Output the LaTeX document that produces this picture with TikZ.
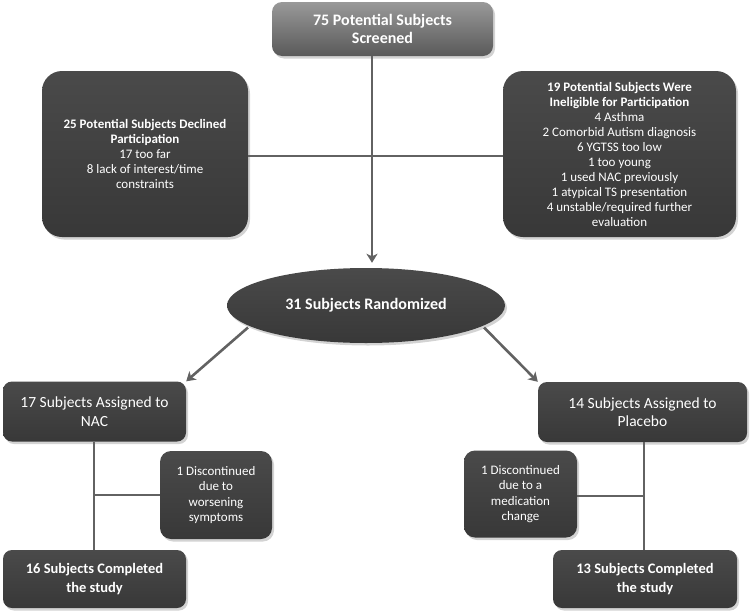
\documentclass[tikz,border=0pt]{standalone}
\usepackage{fontspec}
\setmainfont{Carlito}
\usetikzlibrary{shapes.geometric,shadows,arrows.meta,calc}
\definecolor{boxtop}{HTML}{4A4A4A}
\definecolor{boxbot}{HTML}{383838}
\definecolor{linegray}{HTML}{626262}
\tikzset{
  base/.style={draw=none, text=white, align=center, inner sep=2pt,
    top color=boxtop, bottom color=boxbot,
    drop shadow={shadow xshift=2pt, shadow yshift=-2.5pt, opacity=0.35}},
  bigbox/.style={base, rounded corners=20pt, font=\fontsize{13}{15}\selectfont},
  midbox/.style={base, rounded corners=9pt, font=\fontsize{15.5}{18.5}\selectfont},
  boldmid/.style={midbox, font=\fontsize{14.5}{18.5}\selectfont\bfseries},
  smallbox/.style={base, rounded corners=11pt, font=\fontsize{13}{15.5}\selectfont},
  topbox/.style={base, rounded corners=10pt, top color=gray!80!white, bottom color=black!65,
    font=\fontsize{16}{18.5}\selectfont\bfseries},
  conn/.style={draw=linegray, line width=2.6pt},
  arr/.style={conn, -{Stealth[length=9pt,width=11pt,inset=2.5pt]}},
}
\begin{document}
\begin{tikzpicture}[x=1pt,y=-1pt]
\useasboundingbox (0,0) rectangle (750,616);
\node[topbox, minimum width=221pt, minimum height=54pt] (top) at (382.5,29) {75 Potential Subjects\\Screened};
\node[bigbox, minimum width=206pt, minimum height=166pt] (left) at (145,154)
  {\textbf{25 Potential Subjects Declined}\\\textbf{Participation}\\17 too far\\8 lack of interest/time\\constraints};
\node[bigbox, minimum width=233pt, minimum height=166pt] (right) at (619.5,154)
  {\textbf{19 Potential Subjects Were}\\\textbf{Ineligible for Participation}\\4 Asthma\\2 Comorbid Autism diagnosis\\6 YGTSS too low\\1 too young\\1 used NAC previously\\1 atypical TS presentation\\4 unstable/required further\\evaluation};
\node[base, ellipse, minimum width=278pt, minimum height=75pt, font=\fontsize{16}{18}\selectfont\bfseries] (ell) at (366,305.5) {31 Subjects Randomized};
\node[midbox, minimum width=183pt, minimum height=60pt] (nac) at (94.5,411.5) {17 Subjects Assigned to\\NAC};
\node[smallbox, minimum width=112pt, minimum height=88pt] (discl) at (216,495) {1 Discontinued\\due to\\worsening\\symptoms};
\node[boldmid, minimum width=183pt, minimum height=58pt] (compl) at (94.5,579) {16 Subjects Completed\\the study};
\node[midbox, minimum width=209pt, minimum height=60pt] (plac) at (642.5,412) {14 Subjects Assigned to\\Placebo};
\node[smallbox, minimum width=113pt, minimum height=87pt] (discr) at (520.5,494) {1 Discontinued\\due to a\\medication\\change};
\node[boldmid, minimum width=184pt, minimum height=58pt] (compr) at (645,579) {13 Subjects Completed\\the study};
\coordinate (j) at (372,156);
\coordinate (jl) at (94,495);
\coordinate (jr) at (644,496);
% connectors
\draw[conn] (left.east |- j) -- (right.west |- j);
\draw[arr] (top.south -| j) -- ($(ell.north -| j)+(0,-5)$);
\draw[arr] ($(ell.center)+(-118,22)$) -- (nac.north east);
\draw[arr] ($(ell.center)+(118,22)$) -- (plac.north west);
\draw[conn] (nac.south -| jl) -- (compl.north -| jl);
\draw[conn] (jl) -- (discl.west |- jl);
\draw[conn] (plac.south -| jr) -- (compr.north -| jr);
\draw[conn] (jr) -- (discr.east |- jr);
\end{tikzpicture}
\end{document}
